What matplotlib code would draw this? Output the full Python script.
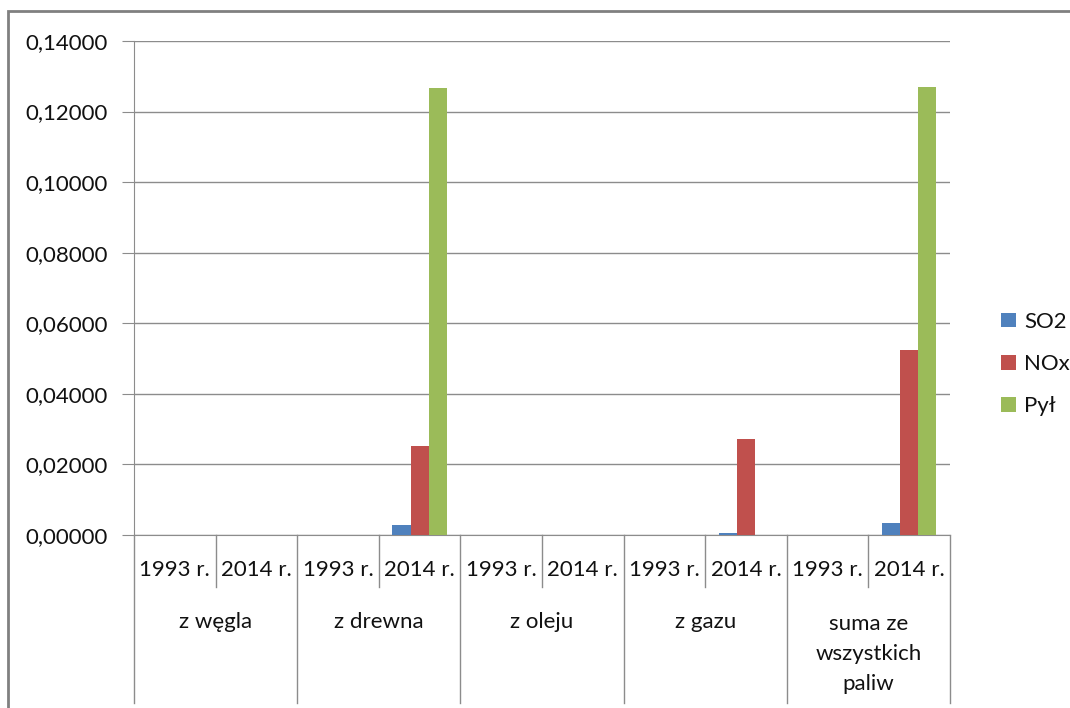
import numpy as np
import matplotlib.pyplot as plt
from matplotlib.patches import Rectangle
from matplotlib.ticker import FuncFormatter
import matplotlib.transforms as mtransforms

plt.rcParams['font.family'] = ['Lato', 'DejaVu Sans']

# dane
groups = ['z węgla', 'z drewna', 'z oleju', 'z gazu', 'suma ze\nwszystkich\npaliw']
years = ['1993 r.', '2014 r.']
series = ['SO2', 'NOx', 'Pył']
so2 = [0, 0, 0, 0.0028, 0, 0, 0, 0.0005, 0, 0.0034]
nox = [0, 0, 0, 0.0252, 0, 0, 0, 0.0271, 0, 0.0523]
pyl = [0, 0, 0, 0.1267, 0, 0, 0, 0, 0, 0.1270]
colors = ['#4F81BD', '#C0504D', '#9BBB59']

W, H = 1070, 708
fig = plt.figure(figsize=(W / 100, H / 100), dpi=100)
ax = fig.add_axes([134 / W, (H - 535) / H, 816 / W, 494 / H])

x = np.arange(len(so2))
bw = (1 / 1.5) / 3
for i, (vals, c, name) in enumerate(zip([so2, nox, pyl], colors, series)):
    ax.bar(x + (i - 1) * bw, vals, width=bw, color=c, label=name, zorder=3)

ax.set_xlim(-0.5, len(so2) - 0.5)
ax.set_ylim(0, 0.14)
ax.set_yticks(np.arange(0, 0.1401, 0.02))
ax.yaxis.set_major_formatter(FuncFormatter(lambda v, p: '{:.5f}'.format(v).replace('.', ',')))
ax.grid(axis='y', color='#8c8c8c', lw=1, zorder=0)
ax.tick_params(axis='y', length=9, color='#8c8c8c', pad=10, labelsize=16, labelcolor='#111111')
ax.set_xticks([])
for s in ['top', 'right']:
    ax.spines[s].set_visible(False)
ax.spines['left'].set_color('#8c8c8c')
ax.spines['bottom'].set_color('#8c8c8c')

# tabela kategorii pod osia
tr = mtransforms.blended_transform_factory(ax.transData, ax.transAxes)
y_year = -(587 - 535) / 494
y_group = -(703 - 535) / 494
for k in range(len(so2) + 1):
    xpos = k - 0.5
    y_end = y_group if k % 2 == 0 else y_year
    ax.plot([xpos, xpos], [0, y_end], color='#8c8c8c', lw=1, transform=tr, clip_on=False)
for k in range(len(so2)):
    ax.text(k, -(570 - 535) / 494, years[k % 2], transform=tr, ha='center', va='center',
            fontsize=16, color='#111111')
for g, name in enumerate(groups):
    if '\n' in name:
        ax.text(2 * g + 0.5, -(654 - 535) / 494, name, transform=tr, ha='center', va='center',
                fontsize=16, color='#111111', linespacing=1.62)
    else:
        ax.text(2 * g + 0.5, -(622 - 535) / 494, name, transform=tr, ha='center', va='center',
                fontsize=16, color='#111111')

fig.legend(loc='center left', bbox_to_anchor=(990 / W, (H - 364) / H), frameon=False,
           fontsize=16, handlelength=0.65, handleheight=0.65, handletextpad=0.4,
           labelspacing=1.0, borderpad=0, labelcolor='#111111')

# ramka wykresu
fig.add_artist(Rectangle((8 / W, -0.1), 1.2, (H - 11) / H + 0.1, transform=fig.transFigure,
                         fill=False, edgecolor='#808080', lw=2))

fig.savefig('out.png', dpi=100)
